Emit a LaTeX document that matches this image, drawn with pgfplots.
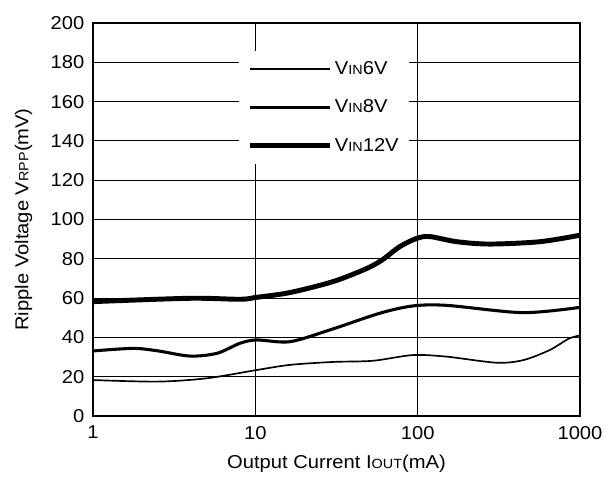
\documentclass[border=0pt]{standalone}
\usepackage{pgfplots}
\pgfplotsset{compat=1.18}
\usepackage{fontspec}
\setmainfont{Liberation Sans}[FakeStretch=1.08]
\usetikzlibrary{calc}
\newcommand{\sub}[1]{{\fontsize{10}{11}\selectfont #1}}
\newcommand{\lf}{\fontsize{14}{16}\selectfont}
\begin{document}
\begin{tikzpicture}
\begin{axis}[name=ax,
  scale only axis, width=365.25pt, height=294.75pt,
  xmode=log, xmin=1, xmax=1000, ymin=0, ymax=200,
  xtick={1,10,100,1000}, xticklabels={1,10,100,1000},
  ytick={0,20,...,200},
  minor xtick={}, 
  major tick length=0pt, minor tick length=0pt,
  grid=major, major grid style={black, line width=0.7pt},
  axis line style={black, line width=0.8pt},
  /pgf/number format/assume math mode=true,
  tick label style={font=\lf},
  xlabel={\lf Output Current I\sub{OUT}(mA)},
  ylabel={\lf Ripple Voltage V\sub{RPP}(mV)},
  xticklabel style={yshift=-4pt},
  yticklabel style={xshift=-3pt},
  xlabel style={yshift=-5pt},
  ylabel style={yshift=7pt},
  legend style={at={(rel axis cs:0.3,0.93)}, anchor=north west, draw=none, fill=white,
    row sep=13.5pt, inner xsep=6pt, inner ysep=6pt,
    /tikz/every even column/.append style={column sep=8pt}},
  legend cell align=left,
  legend image code/.code={\draw[#1] (0pt,0pt) -- (60pt,0pt);},
]
\addplot[black, line width=1.25pt, smooth] coordinates {
(1,18.3) (2.5,17.5) (5.03,19.2) (10.2,23.4) (16.3,26) (30,27.5) (53,28.1) (93.4,31) (151,30.2) (307,27.1) (450,28.5) (652,33.6) (850,39.3) (1000,41)};
\addlegendentry{\lf V\sub{IN}6V}
\addplot[black, line width=2.3pt, smooth] coordinates {
(1,33.1) (1.76,34.4) (2.48,33.2) (3.96,30.5) (5.8,31.9) (8.04,37.0) (10.2,38.7) (16.3,37.8) (28.8,43.8) (58.5,52.3) (93.4,56) (151,56.3) (444,52.6) (1000,55.3)};
\addlegendentry{\lf V\sub{IN}8V}
\addplot[black, line width=3.7pt, smooth] coordinates {
(1,58.2) (3.96,59.9) (8.04,59.4) (10.2,60.4) (16.3,62.8) (30.1,68.4) (48.7,75.1) (61.1,79.7) (77.6,86.2) (98.9,90.4) (119,91.3) (174,88.7) (278,87.5) (566,88.7) (1000,92)};
\addlegendentry{\lf V\sub{IN}12V}
\end{axis}
\path ($(ax.south west)+(-69.75pt,-48pt)$) rectangle ($(ax.north east)+(22.5pt,17.25pt)$);
\end{tikzpicture}
\end{document}
